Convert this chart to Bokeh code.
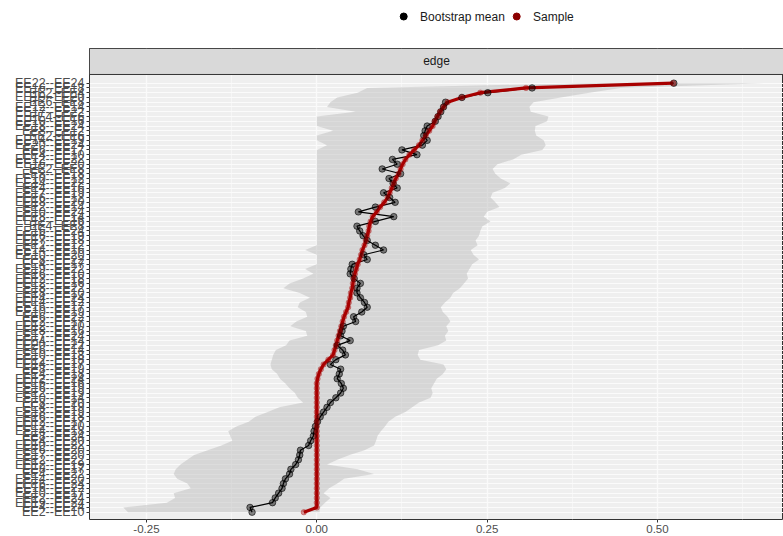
from bokeh.plotting import figure
from bokeh.models import (Range1d, FixedTicker, NumeralTickFormatter, ColumnDataSource)
from bokeh.layouts import column
from bokeh.embed import file_html
from bokeh.resources import INLINE
from bokeh.core.properties import value

# ---------------- data (top row first) ----------------
edge_labels = [
    "EE22--EE24", "EE16--EE18", "EE2--EE4", "EE19--EE20", "EE6--EE8", "EE12--EE14", "EE17--EE22", "EE4--EE6", "EE10--EE16", "EE18--EE24",
    "EE8--EE12", "EE2--EE6", "EE14--EE19", "EE20--EE24", "EE6--EE17", "EE4--EE10", "EE12--EE22", "EE16--EE20", "EE2--EE8", "EE8--EE18",
    "EE10--EE12", "EE14--EE22", "EE4--EE16", "EE17--EE19", "EE6--EE12", "EE18--EE20", "EE2--EE14", "EE10--EE24", "EE8--EE14", "EE12--EE16",
    "EE4--EE8", "EE16--EE24", "EE6--EE19", "EE17--EE18", "EE2--EE12", "EE14--EE16", "EE10--EE20", "EE8--EE22", "EE4--EE17", "EE19--EE22",
    "EE6--EE10", "EE12--EE18", "EE2--EE16", "EE18--EE22", "EE8--EE10", "EE14--EE24", "EE4--EE12", "EE16--EE17", "EE10--EE19", "EE6--EE22",
    "EE2--EE17", "EE12--EE20", "EE8--EE16", "EE17--EE24", "EE4--EE14", "EE20--EE22", "EE6--EE14", "EE10--EE18", "EE2--EE18", "EE14--EE17",
    "EE8--EE19", "EE4--EE18", "EE12--EE24", "EE6--EE16", "EE16--EE19", "EE2--EE19", "EE10--EE14", "EE8--EE20", "EE4--EE19", "EE18--EE19",
    "EE6--EE18", "EE12--EE17", "EE2--EE20", "EE14--EE18", "EE8--EE24", "EE4--EE20", "EE10--EE22", "EE6--EE20", "EE17--EE20", "EE2--EE22",
    "EE12--EE19", "EE8--EE17", "EE4--EE22", "EE14--EE20", "EE6--EE24", "EE16--EE22", "EE10--EE17", "EE2--EE24", "EE19--EE24", "EE4--EE24",
    "EE2--EE10",
]

sample_vals = [
    0.523, 0.307, 0.240, 0.213, 0.192, 0.186, 0.181, 0.177, 0.173, 0.170,
    0.165, 0.160, 0.155, 0.150, 0.143, 0.136, 0.130, 0.126, 0.123, 0.120,
    0.116, 0.113, 0.110, 0.107, 0.104, 0.099, 0.093, 0.088, 0.082, 0.079,
    0.077, 0.076, 0.074, 0.072, 0.070, 0.067, 0.065, 0.063, 0.060, 0.058,
    0.056, 0.054, 0.053, 0.052, 0.050, 0.049, 0.047, 0.046, 0.043, 0.040,
    0.038, 0.036, 0.034, 0.032, 0.030, 0.028, 0.026, 0.024, 0.017, 0.010,
    0.006, 0.003, 0.001, 0.0, 0.0, 0.0, 0.0, 0.0, 0.0, 0.0,
    0.0, 0.0, 0.0, 0.0, 0.0, 0.0, 0.0, 0.0, 0.0, 0.0,
    0.0, 0.0, 0.0, 0.0, 0.0, 0.0, 0.0, 0.0, 0.0, 0.0,
    -0.019,
]

boot_mean = [
    0.524, 0.316, 0.251, 0.213, 0.189, 0.186, 0.182, 0.178, 0.174, 0.162,
    0.159, 0.157, 0.162, 0.155, 0.125, 0.147, 0.111, 0.118, 0.096, 0.123,
    0.106, 0.112, 0.118, 0.098, 0.107, 0.115, 0.086, 0.061, 0.113, 0.086,
    0.059, 0.063, 0.068, 0.074, 0.086, 0.098, 0.069, 0.074, 0.052, 0.050,
    0.049, 0.055, 0.064, 0.059, 0.059, 0.064, 0.070, 0.074, 0.066, 0.054,
    0.057, 0.039, 0.037, 0.035, 0.049, 0.030, 0.038, 0.042, 0.028, 0.020,
    0.035, 0.033, 0.030, 0.036, 0.039, 0.035, 0.028, 0.020, 0.015, 0.010,
    0.005, 0.001, -0.002, -0.004, -0.005, -0.009, -0.012, -0.024, -0.025, -0.027,
    -0.031, -0.038, -0.040, -0.046, -0.049, -0.051, -0.056, -0.061, -0.065, -0.098,
    -0.095,
]

ci_lower = [
    0.400, 0.074, 0.060, 0.030, 0.020, 0.015, 0.057, 0.000, 0.000, 0.000,
    0.024, 0.000, 0.000, 0.015, 0.000, 0.000, 0.000, 0.000, 0.000, 0.000,
    0.000, 0.000, 0.000, 0.000, 0.000, 0.000, 0.000, 0.000, 0.000, 0.000,
    0.000, 0.000, 0.000, 0.000, 0.000, -0.017, 0.000, 0.000, 0.000, -0.017,
    -0.005, -0.020, -0.040, -0.049, -0.025, -0.010, -0.025, -0.028, -0.016, -0.014,
    -0.030, -0.039, -0.016, -0.014, -0.040, -0.045, -0.060, -0.064, -0.066, -0.068,
    -0.066, -0.058, -0.054, -0.046, -0.040, -0.032, -0.028, -0.020, -0.055, -0.072,
    -0.090, -0.100, -0.118, -0.130, -0.127, -0.124, -0.140, -0.160, -0.180, -0.190,
    -0.200, -0.207, -0.210, -0.205, -0.190, -0.185, -0.210, -0.208, -0.220, -0.284,
    -0.277,
]

ci_upper = [
    0.660, 0.446, 0.400, 0.358, 0.318, 0.312, 0.314, 0.340, 0.338, 0.321,
    0.320, 0.322, 0.333, 0.336, 0.331, 0.300, 0.288, 0.265, 0.258, 0.262,
    0.270, 0.284, 0.276, 0.258, 0.255, 0.262, 0.268, 0.250, 0.245, 0.255,
    0.243, 0.240, 0.238, 0.233, 0.236, 0.226, 0.230, 0.238, 0.228, 0.224,
    0.220, 0.222, 0.216, 0.210, 0.200, 0.196, 0.188, 0.182, 0.185, 0.192,
    0.196, 0.190, 0.193, 0.188, 0.190, 0.178, 0.150, 0.148, 0.152, 0.186,
    0.190, 0.185, 0.176, 0.172, 0.168, 0.170, 0.167, 0.150, 0.140, 0.130,
    0.115, 0.105, 0.100, 0.094, 0.089, 0.087, 0.084, 0.070, 0.048, 0.030,
    0.015, 0.060, 0.084, 0.040, 0.030, 0.018, 0.010, 0.020, 0.012, 0.005,
    0.004,
]

x_ticks = [-0.25, 0.0, 0.25, 0.50]
x_minor_ticks = [-0.125, 0.125, 0.375, 0.625]
legend_labels = ["Bootstrap mean", "Sample"]
strip_label = "edge"

# ---------------- styling / layout ----------------
FONT = "Liberation Sans"
RED = "#a80000"
n = len(edge_labels)
ypos = [n - 1 - i for i in range(n)]

X0, X1 = -0.3336, 0.685
Y0, Y1 = -1.53, 97.27
PANEL_TOP = 91.82

# ---- legend row (pixel-coordinate canvas, y downwards) ----
leg = figure(width=783, height=48, x_range=Range1d(0, 783), y_range=Range1d(48, 0),
             output_backend="svg", toolbar_location=None, min_border=0,
             x_axis_type=None, y_axis_type=None, outline_line_color=None)
leg.grid.visible = False
leg_src = ColumnDataSource(dict(
    gx=[354.5, 482.0], gy=[16, 16], tx=[373.0, 500.5], ty=[16.5, 16.5],
    color=["black", "#8b0000"], label=legend_labels))
leg.scatter(x="gx", y="gy", color="color", size=7, source=leg_src)
leg.text(x="tx", y="ty", text="label", source=leg_src, text_align="left",
         text_baseline="middle", text_font=value(FONT), text_font_size="12px",
         text_color="#1A1A1A")

# ---- main panel ----
p = figure(width=783, height=488, x_range=Range1d(X0, X1), y_range=Range1d(Y0, Y1),
           output_backend="svg", toolbar_location=None,
           min_border_left=89, min_border_right=0, min_border_top=0, min_border_bottom=17)
p.background_fill_color = "#EFEFEF"
p.border_fill_color = "white"
p.outline_line_color = "#333333"
p.outline_line_width = 1

src = ColumnDataSource(dict(y=ypos, sample=sample_vals, mean=boot_mean,
                            lo=ci_lower, hi=ci_upper))

p.harea(y="y", x1="lo", x2="hi", source=src, fill_color="#BEBEBE", fill_alpha=0.5)
p.line(x="mean", y="y", source=src, line_color="black", line_width=1.2)
p.line(x="sample", y="y", source=src, line_color=RED, line_width=3.2)
p.scatter(x="mean", y="y", source=src, size=6.5, fill_color="black", fill_alpha=0.45,
          line_color="black", line_alpha=0.6)
p.scatter(x="sample", y="y", source=src, size=5.5, fill_color=RED, fill_alpha=0.4,
          line_color=RED, line_alpha=0.3)

# facet strip
p.quad(left=[X0], right=[X1], bottom=[PANEL_TOP], top=[Y1],
       fill_color="#D9D9D9", line_color="#333333", line_width=1)
p.text(x=[(X0 + X1) / 2], y=[(PANEL_TOP + Y1) / 2], text=[strip_label],
       text_align="center", text_baseline="middle", text_font=value(FONT),
       text_font_size="12px", text_color="#1A1A1A")

# x axis
xt = FixedTicker(ticks=x_ticks, minor_ticks=x_minor_ticks)
xa = p.xaxis[0]
xa.ticker = xt
xa.formatter = NumeralTickFormatter(format="0.00")
xa.axis_line_color = None
xa.major_tick_line_color = "#333333"
xa.major_tick_out = 3
xa.major_tick_in = 0
xa.minor_tick_line_color = None
xa.major_label_standoff = 1
xa.major_label_text_font = FONT
xa.major_label_text_font_size = "11.5px"
xa.major_label_text_color = "#4D4D4D"

# y axis
yt = FixedTicker(ticks=ypos, minor_ticks=[])
ya = p.yaxis[0]
ya.ticker = yt
ya.major_label_overrides = {ypos[i]: edge_labels[i] for i in range(n)}
ya.axis_line_color = None
ya.major_tick_line_color = "#333333"
ya.major_tick_out = 3
ya.major_tick_in = 0
ya.minor_tick_line_color = None
ya.major_label_standoff = 2
ya.major_label_text_font = FONT
ya.major_label_text_font_size = "12.5px"
ya.major_label_text_color = "#4D4D4D"

# grids
p.xgrid.ticker = xt
p.xgrid.grid_line_color = "#FAFAFA"
p.xgrid.grid_line_width = 1.3
p.xgrid.minor_grid_line_color = "#F7F7F7"
p.xgrid.minor_grid_line_width = 0.8
p.ygrid.ticker = yt
p.ygrid.grid_line_color = "#FBFBFB"
p.ygrid.grid_line_width = 1.2

layout = column(leg, p)
open("out.html", "w").write(file_html(layout, INLINE))
